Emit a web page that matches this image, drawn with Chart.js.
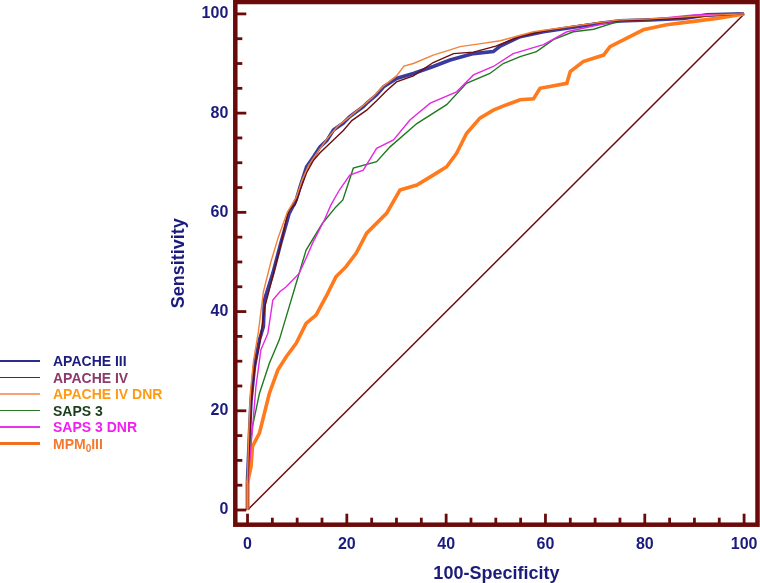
<!DOCTYPE html>
<html>
<head>
<meta charset="utf-8">
<script src="https://cdn.jsdelivr.net/npm/chart.js@4/dist/chart.umd.min.js"></script>
<style>
  html, body { margin: 0; padding: 0; background: #fff; }
  #wrap { position: relative; width: 760px; height: 583px; }
  #legend { position: absolute; left: 0; top: 0; width: 200px; height: 583px; pointer-events: none; }
  .row { position: absolute; left: 0; height: 16px; }
  .swatch { position: absolute; left: 0; width: 40px; }
  .lbl { position: absolute; left: 53px; white-space: nowrap; font: bold 14px "Liberation Sans", Arial, sans-serif; line-height: 16px; top: -8px; }
  .lbl sub { font-size: 10px; vertical-align: -3px; line-height: 0; }
</style>
</head>
<body>
<div id="wrap">
  <canvas id="c" width="760" height="583"></canvas>
  <div id="legend"></div>
</div>
<script>
// ---- data ----
const seriesNames = ['APACHE III', 'APACHE IV', 'APACHE IV DNR', 'SAPS 3', 'SAPS 3 DNR', 'MPM<sub>0</sub>III'];

const apache3 = [[0,0],[0,6],[0.4,15.5],[0.7,22],[1.4,28.9],[2.4,34.3],[3.2,37],[3.4,42.3],[5.1,47.7],[6.7,53.8],[8.4,59.8],[9.8,62.5],[10.6,65.2],[11.9,69.2],[13.3,71.2],[14.6,73.2],[16,74.5],[17.3,76.6],[19.3,78],[20.6,79.3],[23.3,81.3],[24,82],[26,83.7],[27.4,85.3],[30,87],[33.4,88],[37.4,89.4],[40.8,90.7],[45.5,92],[49.5,92.4],[50.9,93.5],[54.9,95.4],[59.6,96.4],[64.3,97.1],[71,98.1],[75,98.6],[81,98.8],[87.8,99.1],[92.5,99.8],[100,100]];

const apache4 = [[0,0],[0,5],[0.4,14],[0.8,22],[1.5,29],[2.5,34],[3.5,41],[5.2,47.5],[6.7,53.5],[7.8,58.5],[8.4,60.5],[9.6,61.5],[10.6,64.5],[11.9,68],[13.3,70.5],[14.6,72],[17.3,74.6],[19.3,76.5],[21,78.5],[24,80.6],[26,82.5],[28,84.5],[30,86.3],[33.4,87.5],[37.4,90.2],[41.5,92],[45.5,92.3],[50,93.5],[55,95.5],[60,96.6],[65,97.4],[71,98.3],[75,98.6],[81,98.8],[88,99.2],[93,99.6],[100,100]];

const apache4Dnr = [[0,0],[0,7],[0.3,17],[0.6,24],[1.2,30],[2.2,36],[3.2,44],[4.7,50],[6.2,55],[8,60],[9.8,63],[11,66.5],[12.3,69.5],[14,72],[16,74.8],[18,77.2],[20.6,79.3],[23,81.3],[25,83],[27.4,85.5],[30,87.5],[31.5,89.5],[33.4,90],[37.4,91.7],[40,92.5],[42.8,93.4],[47,94],[50.9,94.6],[57.6,96.4],[64,97.3],[71,98.3],[75,98.8],[81,99],[88,99.4],[93,99.7],[100,100]];

const saps3 = [[0,0],[0,8],[0.4,11.4],[1,16.8],[2.4,23.5],[4.4,29.6],[6.4,34.3],[8.4,41],[9.8,45.7],[11.8,52.4],[15.1,57.8],[17.8,61.1],[19.2,62.5],[21.3,68.9],[26,70.2],[28.7,73.2],[34.1,77.9],[40.1,81.7],[44.1,86],[48.8,88],[51.5,90],[54.9,91.4],[58.2,92.4],[61.6,94.8],[65.6,96.4],[69.7,96.9],[74.4,98.4],[81,98.8],[90,99.6],[100,100]];

const saps3Dnr = [[0,0],[0,5],[0.2,7.4],[0.7,12.8],[1.7,24.9],[2.7,32.3],[4.1,35.6],[5.1,42.3],[6.5,44],[7.8,45],[10.4,47.7],[11.9,51],[13.1,53.8],[15.5,58.5],[16.8,61.5],[18.5,64.5],[20.6,67.5],[23.3,68.5],[26,72.9],[29.4,74.6],[32.7,78.6],[36.8,82],[42.1,84.3],[45.5,87.7],[49.5,89.4],[53.5,92],[59.6,93.8],[64.3,96.4],[69,97.4],[74.4,98.6],[81,98.9],[89.8,99.8],[100,100]];

const mpm0 = [[0,0],[0,5.4],[0.7,8.7],[1,12.8],[2.4,15.5],[3.4,19.5],[4.4,23.5],[6.1,28.2],[7.8,30.9],[9.8,33.6],[11.8,37.6],[13.8,39.3],[15.8,43],[17.8,47],[19.8,49],[21.9,51.8],[24,55.8],[28,59.8],[30.7,64.5],[34.1,65.5],[37.4,67.5],[40.1,69.2],[42.1,71.9],[44.1,75.9],[46.8,79],[49.5,80.6],[52.2,81.7],[54.9,82.7],[57.6,82.9],[58.9,85],[64.3,86],[65,88.4],[67.6,90.4],[71.7,91.7],[73,93.4],[76.4,95.1],[79.7,96.8],[84.4,97.8],[89.8,98.5],[94.5,99.1],[100,100]];

const reference = [[0,0],[100,100]];

const xTickLabels = [0, 20, 40, 60, 80, 100];
const yTickLabels = [0, 20, 40, 60, 80, 100];
const minorTicks = [0,5,10,15,20,25,30,35,40,45,50,55,60,65,70,75,80,85,90,95,100];
const xTitle = '100-Specificity';
const yTitle = 'Sensitivity';

// ---- styles ----
const navy = '#1b1b7e';
const frameColor = '#6b0a0a';
const FONT = '"Liberation Sans", Arial, sans-serif';
const lineStyles = [
  { color: '#3b3b9e', width: 3.6, order: 7 },
  { color: '#6e0d0d', width: 1.4, order: 3 },
  { color: '#f2833a', width: 1.4, order: 2 },
  { color: '#1f7a1f', width: 1.4, order: 5 },
  { color: '#e428e4', width: 1.4, order: 4 },
  { color: '#ff7a1c', width: 3.6, order: 6 }
];
const legendText = ['#1d1d80', '#8c3a6c', '#ff9a14', '#1b3d1b', '#f020f0', '#f27a30'];
const legendLine = ['#2c2c8c', '#7a1c1c', '#f4a474', '#2a7a2a', '#e634e6', '#f07020'];
const legendY = [361, 377.5, 394, 410.5, 427, 443.5];

const series = [apache3, apache4, apache4Dnr, saps3, saps3Dnr, mpm0];
const toPts = arr => arr.map(p => ({ x: p[0], y: p[1] }));

const datasets = series.map((s, i) => ({
  label: seriesNames[i],
  data: toPts(s),
  showLine: true,
  borderColor: lineStyles[i].color,
  backgroundColor: lineStyles[i].color,
  borderWidth: lineStyles[i].width,
  pointRadius: 0,
  tension: 0,
  fill: false,
  order: lineStyles[i].order
}));
datasets.push({
  label: 'reference',
  data: toPts(reference),
  showLine: true,
  borderColor: frameColor,
  borderWidth: 1.5,
  pointRadius: 0,
  fill: false,
  order: 8
});

const framePlugin = {
  id: 'frame',
  afterDatasetsDraw(chart) {
    const { ctx, chartArea: a, scales: { x, y } } = chart;
    ctx.save();
    ctx.strokeStyle = frameColor;
    ctx.lineWidth = 2.8;
    ctx.lineCap = 'butt';
    minorTicks.forEach(v => {
      const len = (v % 20 === 0) ? 11 : 7;
      const px = x.getPixelForValue(v);
      ctx.beginPath(); ctx.moveTo(px, a.bottom); ctx.lineTo(px, a.bottom - len); ctx.stroke();
      const py = y.getPixelForValue(v);
      ctx.beginPath(); ctx.moveTo(a.left, py); ctx.lineTo(a.left + len, py); ctx.stroke();
    });
    ctx.lineWidth = 4.5;
    ctx.strokeRect(a.left, a.top, a.right - a.left, a.bottom - a.top);
    ctx.restore();
  }
};

const zeroPad = s => { s.paddingTop = 0; s.paddingBottom = 0; s.paddingLeft = 0; s.paddingRight = 0; };
const noGrid = { display: false, drawTicks: false, tickLength: 0 };

new Chart(document.getElementById('c'), {
  type: 'scatter',
  data: { datasets },
  options: {
    responsive: false,
    animation: false,
    events: [],
    layout: { padding: { left: 164.7, right: 2.5, top: 2, bottom: 0 } },
    plugins: { legend: { display: false }, tooltip: { enabled: false } },
    scales: {
      x: {
        type: 'linear',
        min: -2.46, max: 102.7,
        grid: noGrid,
        border: { display: false },
        afterBuildTicks: s => { s.ticks = xTickLabels.map(v => ({ value: v })); },
        afterFit: s => { s.height = 58.3; zeroPad(s); },
        ticks: { color: navy, font: { family: FONT, size: 16, weight: 'bold' }, padding: 10, maxRotation: 0 },
        title: { display: true, text: xTitle, color: navy, font: { family: FONT, size: 18, weight: 'bold' }, padding: { top: 0, bottom: -2 } }
      },
      y: {
        type: 'linear',
        min: -2.96, max: 102.4,
        grid: noGrid,
        border: { display: false },
        afterBuildTicks: s => { s.ticks = yTickLabels.map(v => ({ value: v })); },
        afterFit: s => { s.width = 70.6; zeroPad(s); },
        ticks: { color: navy, font: { family: FONT, size: 16, weight: 'bold' }, padding: 7 },
        title: { display: true, text: yTitle, color: navy, font: { family: FONT, size: 18, weight: 'bold' }, padding: { top: 4, bottom: 0 } }
      }
    }
  },
  plugins: [framePlugin]
});

// HTML legend
const legend = document.getElementById('legend');
seriesNames.forEach((name, i) => {
  const row = document.createElement('div');
  row.className = 'row';
  row.style.top = legendY[i] + 'px';
  const sw = document.createElement('div');
  sw.className = 'swatch';
  const w = i === 5 ? 3 : 1.5;
  sw.style.height = w + 'px';
  sw.style.top = (-w / 2) + 'px';
  sw.style.background = legendLine[i];
  const lb = document.createElement('div');
  lb.className = 'lbl';
  lb.style.color = legendText[i];
  lb.innerHTML = name;
  row.appendChild(sw);
  row.appendChild(lb);
  legend.appendChild(row);
});
</script>
</body>
</html>
